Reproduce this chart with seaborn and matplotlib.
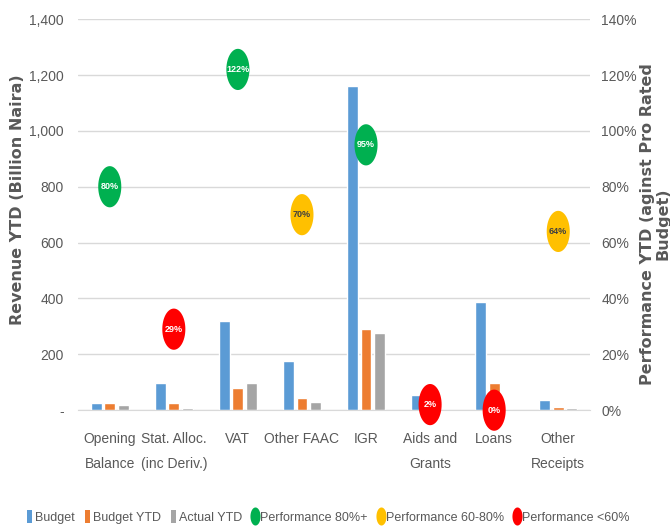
import numpy as np
import pandas as pd
import matplotlib
matplotlib.use("Agg")
import matplotlib.pyplot as plt
import seaborn as sns
from matplotlib.path import Path
from matplotlib.patches import Patch
from matplotlib.lines import Line2D
from matplotlib.ticker import FuncFormatter, PercentFormatter

# data
categories = ["Opening\nBalance", "Stat. Alloc.\n(inc Deriv.)", "VAT", "Other FAAC",
              "IGR", "Aids and\nGrants", "Loans", "Other\nReceipts"]
budget = [24, 99, 319, 175, 1162, 53, 386, 38]
budget_ytd = [24, 24, 80, 44, 289, 13, 97, 11]
actual_ytd = [19, 7, 97, 30, 275, 0.3, 0, 7]
performance = [0.80, 0.29, 1.22, 0.70, 0.95, 0.02, 0.00, 0.64]

series_names = ["Budget", "Budget YTD", "Actual YTD"]
bar_colors = ["#5B9BD5", "#ED7D31", "#A5A5A5"]
perf_names = ["Performance 80%+", "Performance 60-80%", "Performance <60%"]
perf_colors = ["#00B050", "#FFC000", "#FF0000"]

grey = "#595959"

sns.set_style("white")
plt.rcParams["font.family"] = ["Liberation Sans", "DejaVu Sans"]

df = pd.DataFrame({
    "category": categories * 3,
    "series": np.repeat(series_names, len(categories)),
    "value": budget + budget_ytd + actual_ytd,
})

fig = plt.figure(figsize=(6.7, 5.32), dpi=100)
ax = fig.add_axes([0.116, 0.229, 0.765, 0.735])

sns.barplot(data=df, x="category", y="value", hue="series", palette=bar_colors,
            width=0.63, gap=0.19, legend=False, ax=ax, saturation=1)

ax.set_ylim(0, 1400)
ax.set_yticks(range(0, 1401, 200))
ax.yaxis.set_major_formatter(FuncFormatter(lambda v, p: "-" if v == 0 else f"{int(v):,}"))
ax.grid(axis="y", color="#D9D9D9", linewidth=1)
ax.set_axisbelow(True)
for s in ["top", "left", "right"]:
    ax.spines[s].set_visible(False)
ax.spines["bottom"].set_color("#D9D9D9")
ax.tick_params(axis="both", length=0, colors=grey, labelsize=10)
ax.tick_params(axis="y", pad=10)
ax.tick_params(axis="x", pad=16)
for lbl in ax.get_xticklabels():
    lbl.set_linespacing(1.95)
ax.set_xlabel("")
ax.set_ylabel("")
ax.set_xlim(-0.5, len(categories) - 0.5)

# performance markers on the secondary axis
ax2 = ax.twinx()
t = np.linspace(0, 2 * np.pi, 60)
ellipse = Path(np.column_stack([0.56 * np.cos(t), np.sin(t)]), closed=True)

def band(p):
    if p >= 0.8:
        return perf_names[0]
    if p >= 0.6:
        return perf_names[1]
    return perf_names[2]

pdf = pd.DataFrame({"x": np.arange(len(categories)), "perf": performance,
                    "band": [band(p) for p in performance]})
sns.scatterplot(data=pdf, x="x", y="perf", hue="band", hue_order=perf_names,
                palette=perf_colors, marker=ellipse, s=880, linewidth=0,
                legend=False, ax=ax2, zorder=5, clip_on=False)
for i, p in enumerate(performance):
    c = "#404040" if band(p) == perf_names[1] else "white"
    ax2.text(i, p, f"{round(p * 100)}%", ha="center", va="center", color=c,
             fontsize=6.5, fontweight="bold", zorder=6, clip_on=False)

ax2.set_ylim(0, 1.4)
ax2.set_yticks(np.arange(0, 1.41, 0.2))
ax2.yaxis.set_major_formatter(PercentFormatter(1.0, decimals=0))
for s in ["top", "left", "right", "bottom"]:
    ax2.spines[s].set_visible(False)
ax2.tick_params(axis="y", length=0, colors=grey, labelsize=10, pad=8)
ax2.set_ylabel("")
ax2.set_xlabel("")
ax2.set_xlim(-0.5, len(categories) - 0.5)

# axis titles
fig.text(18 / 670, 1 - 200 / 532, "Revenue YTD (Billion Naira)", rotation=90,
         ha="center", va="center", fontsize=11.5, fontweight="bold", color=grey,
         family="DejaVu Sans")
fig.text(655 / 670, 1 - 224 / 532, "Performance YTD (aginst Pro Rated\nBudget)",
         rotation=90, ha="center", va="center", multialignment="center",
         fontsize=11.5, fontweight="bold", color=grey, family="DejaVu Sans",
         linespacing=1.0)

handles = [Patch(facecolor=c, edgecolor="none") for c in bar_colors]
handles += [Line2D([], [], linestyle="none", marker=ellipse, markersize=13,
                   markerfacecolor=c, markeredgewidth=0) for c in perf_colors]
fig.legend(handles, series_names + perf_names, loc="center", bbox_to_anchor=(0.49, 0.028),
           ncol=6, frameon=False, fontsize=9, handlelength=0.45, handleheight=1.2,
           handletextpad=0.2, columnspacing=0.8, labelcolor=grey)

fig.savefig("out.png", dpi=100)
